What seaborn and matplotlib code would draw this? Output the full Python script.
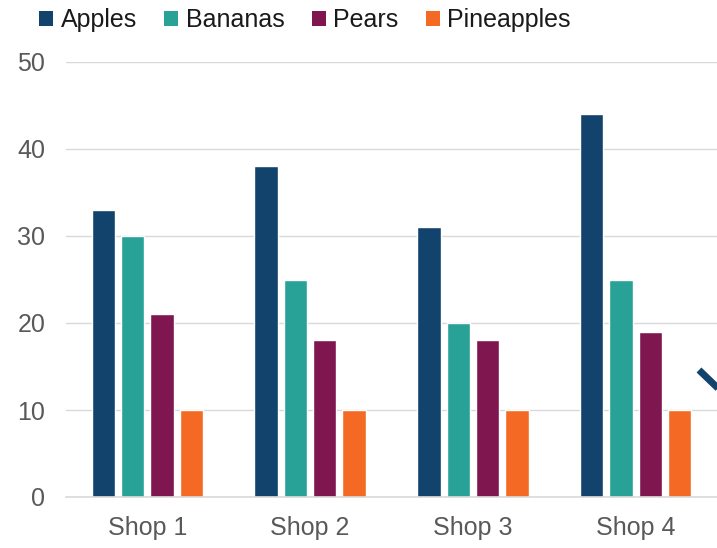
import matplotlib
matplotlib.use("Agg")
import matplotlib.pyplot as plt
import seaborn as sns
import pandas as pd
from matplotlib.patches import Patch
from matplotlib.lines import Line2D

shops = ["Shop 1", "Shop 2", "Shop 3", "Shop 4"]
fruits = ["Apples", "Bananas", "Pears", "Pineapples"]
apples = [33, 38, 31, 44]
bananas = [30, 25, 20, 25]
pears = [21, 18, 18, 19]
pineapples = [10, 10, 10, 10]
colors = ["#12436D", "#28A197", "#801650", "#F46A25"]

rows = []
for f, vals in zip(fruits, [apples, bananas, pears, pineapples]):
    for s, v in zip(shops, vals):
        rows.append({"Shop": s, "Fruit": f, "Value": v})
df = pd.DataFrame(rows)

sns.set_theme(style="white")
plt.rcParams["font.family"] = ["Liberation Sans", "DejaVu Sans"]

fig = plt.figure(figsize=(7.17, 5.48), dpi=100)
ax = fig.add_axes([66 / 717, 51 / 548, 651 / 717, 435 / 548])

sns.barplot(data=df, x="Shop", y="Value", hue="Fruit", order=shops, hue_order=fruits,
            palette=colors, width=0.72, gap=0.2, saturation=1, ax=ax, legend=False)

ax.set_ylim(0, 50)
ax.set_xlim(-0.5, 3.5)
ax.set_yticks(range(0, 51, 10))
ax.yaxis.grid(True, color="#D9D9D9", linewidth=1)
ax.set_axisbelow(True)
for s in ["top", "right", "left"]:
    ax.spines[s].set_visible(False)
ax.spines["bottom"].set_color("#D9D9D9")
ax.spines["bottom"].set_linewidth(1.2)
ax.set_xlabel("")
ax.set_ylabel("")
ax.tick_params(axis="both", length=0, labelsize=18, colors="#595959")
ax.tick_params(axis="y", pad=15)
ax.tick_params(axis="x", pad=14)

handles = [Patch(facecolor=c, edgecolor="none", label=f) for f, c in zip(fruits, colors)]
fig.legend(handles=handles, loc="center", bbox_to_anchor=(305 / 717, 1 - 20 / 548), ncol=4,
           frameon=False, fontsize=18, handlelength=0.55, handleheight=0.55,
           handletextpad=0.3, columnspacing=1.1, labelcolor="#1a1a1a",
           borderpad=0, borderaxespad=0)

fig.add_artist(Line2D([699 / 717, 725 / 717], [1 - 370 / 548, 1 - 395 / 548],
                      transform=fig.transFigure, color="#12436D", linewidth=5,
                      solid_capstyle="butt", clip_on=False))

fig.savefig("out.png", dpi=100)
